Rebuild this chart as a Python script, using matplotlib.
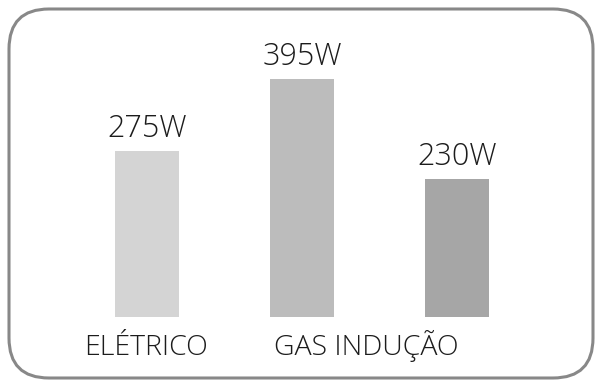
import matplotlib
matplotlib.use('Agg')
import matplotlib.pyplot as plt
from matplotlib.patches import FancyBboxPatch
from matplotlib.transforms import IdentityTransform

# Data
categories = ["ELÉTRICO", "GAS", "INDUÇÃO"]
values = [275, 395, 230]
value_labels = ["275W", "395W", "230W"]
bottom_labels = ["ELÉTRICO", "GAS INDUÇÃO"]
colors = ["#d4d4d4", "#bcbcbc", "#a6a6a6"]

plt.rcParams['font.family'] = ['Open Sans', 'DejaVu Sans']
plt.rcParams['font.weight'] = 'light'
text_color = "#1c1c1c"

W, H = 598, 384
fig = plt.figure(figsize=(W / 100, H / 100), dpi=100)

# axes in pixel terms: baseline 317 px from top, 0.602 px per watt
base_px = H - 317
top_px = H - 30
ax = fig.add_axes([0, base_px / H, 1, (top_px - base_px) / H])
ax.set_ylim(0, (top_px - base_px) / 0.602)
ax.set_xlim(-147 / 155, 2 + (W - 457) / 155)
ax.axis('off')

x = list(range(len(categories)))
bars = ax.bar(x, values, width=64 / 155, color=colors, linewidth=0)

# value labels above bars
for xi, v, lab in zip(x, values, value_labels):
    ax.annotate(lab, (xi, v), xytext=(0, 14), textcoords='offset pixels',
                ha='center', va='baseline', fontsize=22, color=text_color)

# category labels under the bars
ax.annotate(bottom_labels[0], (x[0], 0), xytext=(-1, -38), textcoords='offset pixels',
            ha='center', va='baseline', fontsize=20.5, color=text_color)
ax.annotate(bottom_labels[1], (x[1] - 32 / 155, 0), xytext=(4, -38), textcoords='offset pixels',
            ha='left', va='baseline', fontsize=20.5, color=text_color)

# rounded frame
frame = FancyBboxPatch((9, H - 378), 584, 369,
                       boxstyle="round,pad=0,rounding_size=40",
                       transform=IdentityTransform(),
                       facecolor='none', edgecolor='#888888', linewidth=2.2)
fig.patches.append(frame)

fig.savefig('out.png', dpi=100, facecolor='white')
